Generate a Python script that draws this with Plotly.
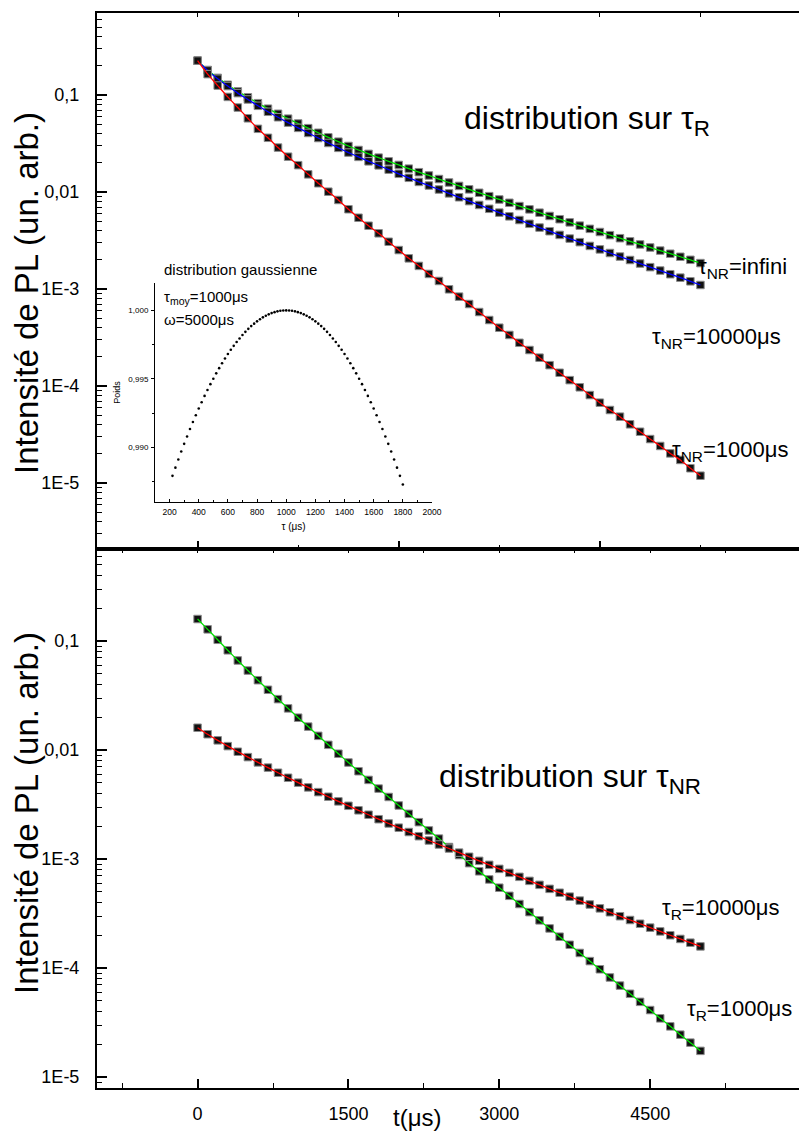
import plotly.graph_objects as go

# ---------------- data ----------------
t_us = list(range(0, 5001, 100))

# top panel : distribution sur tau_R
top_nr_infini = [0.2257, 0.1810, 0.1501, 0.1274, 0.1089, 0.0947, 0.0823, 0.0722, 0.0640, 0.0570,
                 0.0508, 0.0455, 0.0408, 0.0366, 0.0330, 0.0298, 0.0271, 0.0247, 0.0226, 0.0207,
                 0.0190, 0.0174, 0.0160, 0.0148, 0.0136, 0.01253, 0.01155, 0.01065, 0.00982, 0.00906,
                 0.00837, 0.00774, 0.00716, 0.00662, 0.00612, 0.00566, 0.00524, 0.00486, 0.00450, 0.00417,
                 0.00387, 0.00359, 0.00334, 0.00310, 0.00288, 0.00268, 0.00249, 0.00231, 0.00215, 0.00200,
                 0.00185]
top_nr_10000 = [0.2257, 0.1791, 0.1470, 0.1235, 0.1045, 0.0899, 0.0773, 0.0671, 0.0589, 0.0519,
                0.0458, 0.0406, 0.0360, 0.0320, 0.0285, 0.0255, 0.0230, 0.0207, 0.0188, 0.0170,
                0.0154, 0.0140, 0.0127, 0.01166, 0.01061, 0.00967, 0.00882, 0.00805, 0.00735, 0.00671,
                0.00613, 0.00561, 0.00514, 0.00470, 0.00430, 0.00394, 0.00361, 0.00331, 0.00304, 0.00278,
                0.00256, 0.00235, 0.00216, 0.00199, 0.00183, 0.00168, 0.00155, 0.00142, 0.00131, 0.00120,
                0.00110]
top_nr_1000 = [0.226, 0.164, 0.125, 0.0955, 0.0742, 0.0575, 0.0448, 0.0362, 0.0287, 0.0231,
               0.0189, 0.0152, 0.0123, 0.01007, 0.00827, 0.00664, 0.00543, 0.00449, 0.00375, 0.00307,
               0.00252, 0.00207, 0.00173, 0.00143, 0.00121, 0.000993, 0.000834, 0.000700, 0.000579, 0.000479,
               0.000399, 0.000336, 0.000279, 0.000235, 0.000196, 0.000164, 0.000137, 0.000115, 9.70e-5, 8.07e-5,
               6.73e-5, 5.66e-5, 4.83e-5, 4.03e-5, 3.38e-5, 2.84e-5, 2.41e-5, 2.02e-5, 1.73e-5, 1.42e-5,
               1.19e-5]

# bottom panel : distribution sur tau_NR
bot_r_1000 = [0.1591, 0.1280, 0.1026, 0.0822, 0.0663, 0.0536, 0.0437, 0.0357, 0.0293, 0.0241,
              0.0198, 0.0164, 0.0135, 0.01116, 0.00925, 0.00768, 0.00639, 0.00532, 0.00443, 0.00371,
              0.00310, 0.00260, 0.00218, 0.00183, 0.00154, 0.00129, 0.001088, 0.000917, 0.000772, 0.000650,
              0.000546, 0.000460, 0.000387, 0.000326, 0.000274, 0.000231, 0.000194, 0.0001636, 0.0001376, 0.0001159,
              9.75e-5, 8.20e-5, 6.91e-5, 5.81e-5, 4.90e-5, 4.12e-5, 3.46e-5, 2.92e-5, 2.45e-5, 2.07e-5,
              1.74e-5]
bot_r_10000 = [0.01602, 0.01396, 0.01227, 0.01086, 0.00965, 0.00861, 0.00770, 0.00690, 0.00619, 0.00557,
               0.00502, 0.00454, 0.00411, 0.00373, 0.00338, 0.00308, 0.00280, 0.00255, 0.00232, 0.00212,
               0.00194, 0.00177, 0.00162, 0.00148, 0.00136, 0.00125, 0.001145, 0.001050, 0.000963, 0.000885,
               0.000813, 0.000747, 0.000687, 0.000631, 0.000580, 0.000533, 0.000491, 0.000452, 0.000416, 0.000383,
               0.000353, 0.000325, 0.000299, 0.000276, 0.000255, 0.000235, 0.000217, 0.000200, 0.000185, 0.000171,
               0.000158]

# inset : distribution gaussienne
inset_tau = list(range(220, 1801, 20))
inset_poids = [0.98791, 0.98851, 0.98911, 0.98969, 0.99025, 0.99079, 0.99133, 0.99184, 0.99234, 0.99283,
               0.99329, 0.99375, 0.99418, 0.99461, 0.99501, 0.99540, 0.99578, 0.99614, 0.99648, 0.99681,
               0.99712, 0.99741, 0.99769, 0.99795, 0.99820, 0.99843, 0.99865, 0.99885, 0.99903, 0.99920,
               0.99935, 0.99949, 0.99961, 0.99971, 0.99980, 0.99987, 0.99993, 0.99997, 0.99999, 1.00000,
               0.99999, 0.99997, 0.99993, 0.99987, 0.99980, 0.99971, 0.99961, 0.99949, 0.99935, 0.99920,
               0.99903, 0.99885, 0.99865, 0.99843, 0.99820, 0.99795, 0.99769, 0.99741, 0.99712, 0.99681,
               0.99648, 0.99614, 0.99578, 0.99540, 0.99501, 0.99461, 0.99418, 0.99375, 0.99329, 0.99283,
               0.99234, 0.99184, 0.99133, 0.99079, 0.99025, 0.98969, 0.98911, 0.98851, 0.98791, 0.98728]

y_tick_vals = [0.1, 0.01, 1e-3, 1e-4, 1e-5]
y_tick_text = ["0,1", "0,01", "1E-3", "1E-4", "1E-5"]

# ---------------- layout helpers ----------------
W, H = 799, 1131
L, R, T, B = 97, 0, 13, 43
PW, PH = W - L - R, H - T - B


def px(x):
    return (x - L) / PW


def py(y):
    return (H - B - y) / PH


FONT = "Liberation Sans, Arial, Helvetica, sans-serif"
split = py(549)
minor_log = [m * 10.0 ** d for d in range(-7, 1) for m in range(2, 10)]

fig = go.Figure()
MK = dict(symbol="square", size=7.5, color="#111111", line=dict(color="#8c8c8c", width=1))


def add_series(yvals, color, xa, ya):
    fig.add_trace(go.Scatter(x=t_us, y=yvals, mode="markers", marker=MK,
                             xaxis=xa, yaxis=ya, showlegend=False, hoverinfo="skip"))
    fig.add_trace(go.Scatter(x=t_us, y=yvals, mode="lines",
                             line=dict(color=color, width=1.3, shape="spline", smoothing=0.6),
                             xaxis=xa, yaxis=ya, showlegend=False, hoverinfo="skip"))


add_series(top_nr_infini, "#00e000", "x", "y")
add_series(top_nr_10000, "#0000ff", "x", "y")
add_series(top_nr_1000, "#ff0000", "x", "y")
add_series(bot_r_1000, "#00e000", "x2", "y2")
add_series(bot_r_10000, "#ff0000", "x2", "y2")

# invisible carriers so that the mirrored top axes get drawn
fig.add_trace(go.Scatter(x=t_us, y=top_nr_infini, mode="lines", opacity=0, xaxis="x3", yaxis="y",
                         showlegend=False, hoverinfo="skip"))
fig.add_trace(go.Scatter(x=t_us, y=bot_r_1000, mode="lines", opacity=0, xaxis="x4", yaxis="y2",
                         showlegend=False, hoverinfo="skip"))

fig.add_trace(go.Scatter(x=inset_tau, y=inset_poids, mode="markers",
                         marker=dict(color="black", size=2.6),
                         xaxis="x5", yaxis="y5", showlegend=False, hoverinfo="skip"))

XR = [-1000, 5980]
axis_common = dict(showline=True, linecolor="black", linewidth=2, showgrid=False, zeroline=False,
                   mirror=False)

ylog = dict(type="log", ticks="inside", tickmode="array", tickvals=y_tick_vals, ticktext=y_tick_text,
            ticklen=10, tickwidth=1.5, tickcolor="black",
            minor=dict(ticks="inside", ticklen=5, tickwidth=1.2, tickcolor="black", tickmode="array",
                       tickvals=minor_log, showgrid=False),
            tickfont=dict(family=FONT, size=18, color="black"), ticklabelstandoff=12, **axis_common)

fig.update_layout(
    width=W, height=H, margin=dict(l=L, r=R, t=T, b=B, pad=0, autoexpand=False),
    paper_bgcolor="white", plot_bgcolor="white", separators=", ",
    font=dict(family=FONT, color="black"),
    xaxis=dict(domain=[0, 1], anchor="y", range=XR, ticks="inside", tickmode="linear", tick0=0, dtick=2000,
               ticklen=8, tickwidth=1.5, tickcolor="black", showticklabels=False,
               minor=dict(ticks="inside", ticklen=4, tickwidth=1.2, tickcolor="black", tick0=0, dtick=1000),
               **axis_common),
    xaxis3=dict(overlaying="x", anchor="y", side="top", range=XR, ticks="inside", tickmode="linear",
                tick0=0, dtick=1000, ticklen=4, tickwidth=1.2, tickcolor="black", showticklabels=False,
                **axis_common),
    yaxis=dict(domain=[split, 1], anchor="x", range=[-5.68, -0.155], **ylog),
    xaxis2=dict(domain=[0, 1], anchor="y2", range=XR, ticks="inside", tickmode="linear", tick0=0, dtick=1500,
                ticklen=9, tickwidth=1.5, tickcolor="black", tickformat="d",
                minor=dict(ticks="inside", ticklen=5, tickwidth=1.2, tickcolor="black", tick0=0, dtick=750),
                tickfont=dict(family=FONT, size=18, color="black"), ticklabelstandoff=8,
                **axis_common),
    xaxis4=dict(overlaying="x2", anchor="y2", side="top", range=XR, ticks="inside", tickmode="linear",
                tick0=0, dtick=750, ticklen=4, tickwidth=1.2, tickcolor="black", showticklabels=False,
                **axis_common),
    yaxis2=dict(domain=[0, split], anchor="x2", range=[-5.1, -0.156], **ylog),
    xaxis5=dict(domain=[px(155), px(432)], anchor="y5", range=[100, 2000], showline=True, linecolor="black",
                linewidth=1, showgrid=False, zeroline=False, ticks="inside", tickmode="linear", tick0=0,
                dtick=200, ticklen=3, tickwidth=1, tickcolor="black", tickformat="d",
                minor=dict(ticks="inside", ticklen=2, tickwidth=1, tickcolor="black", tick0=0, dtick=100),
                tickfont=dict(family=FONT, size=8.5, color="black"), ticklabelstandoff=2,
                title=dict(text="τ (μs)", font=dict(family=FONT, size=10, color="black"), standoff=6)),
    yaxis5=dict(domain=[py(502), py(283)], anchor="x5", range=[0.986, 1.002], showline=True,
                linecolor="black", linewidth=1, showgrid=False, zeroline=False, ticks="outside",
                tickmode="linear", tick0=0, dtick=0.005, ticklen=3, tickwidth=1, tickcolor="black",
                tickformat=".3f",
                minor=dict(ticks="outside", ticklen=2, tickwidth=1, tickcolor="black", dtick=0.0025, tick0=0),
                tickfont=dict(family=FONT, size=8, color="black"), ticklabelstandoff=1,
                title=dict(text="Poids", font=dict(family=FONT, size=9, color="black"), standoff=6)),
)


def ann(text, x, y, size, xanchor="left", yanchor="middle", angle=0):
    fig.add_annotation(text=text, x=px(x), y=py(y), xref="paper", yref="paper", showarrow=False,
                       xanchor=xanchor, yanchor=yanchor, textangle=angle,
                       font=dict(family=FONT, size=size, color="black"))


ann("Intensité de PL (un. arb.)", 26, 293, 33, "center", "middle", -90)
ann("Intensité de PL (un. arb.)", 26, 813, 33, "center", "middle", -90)
ann("t(μs)", 417, 1117, 24, "center", "middle")

ann("distribution sur τ<sub>R</sub>", 462, 121, 32)
ann("distribution sur τ<sub>NR</sub>", 437, 778, 32)

ann("τ<sub>NR</sub>=infini", 696, 268, 22)
ann("τ<sub>NR</sub>=10000μs", 650, 338, 22)
ann("τ<sub>NR</sub>=1000μs", 670, 451, 22)
ann("τ<sub>R</sub>=10000μs", 660, 909, 22)
ann("τ<sub>R</sub>=1000μs", 685, 1010, 22)

ann("distribution gaussienne", 162, 269, 15)
ann("τ<sub>moy</sub>=1000μs", 162, 297, 15)
ann("ω=5000μs", 162, 319, 15)

fig.write_html("out.html", config={"displayModeBar": False},
               post_script="document.body.style.margin='0px';")
